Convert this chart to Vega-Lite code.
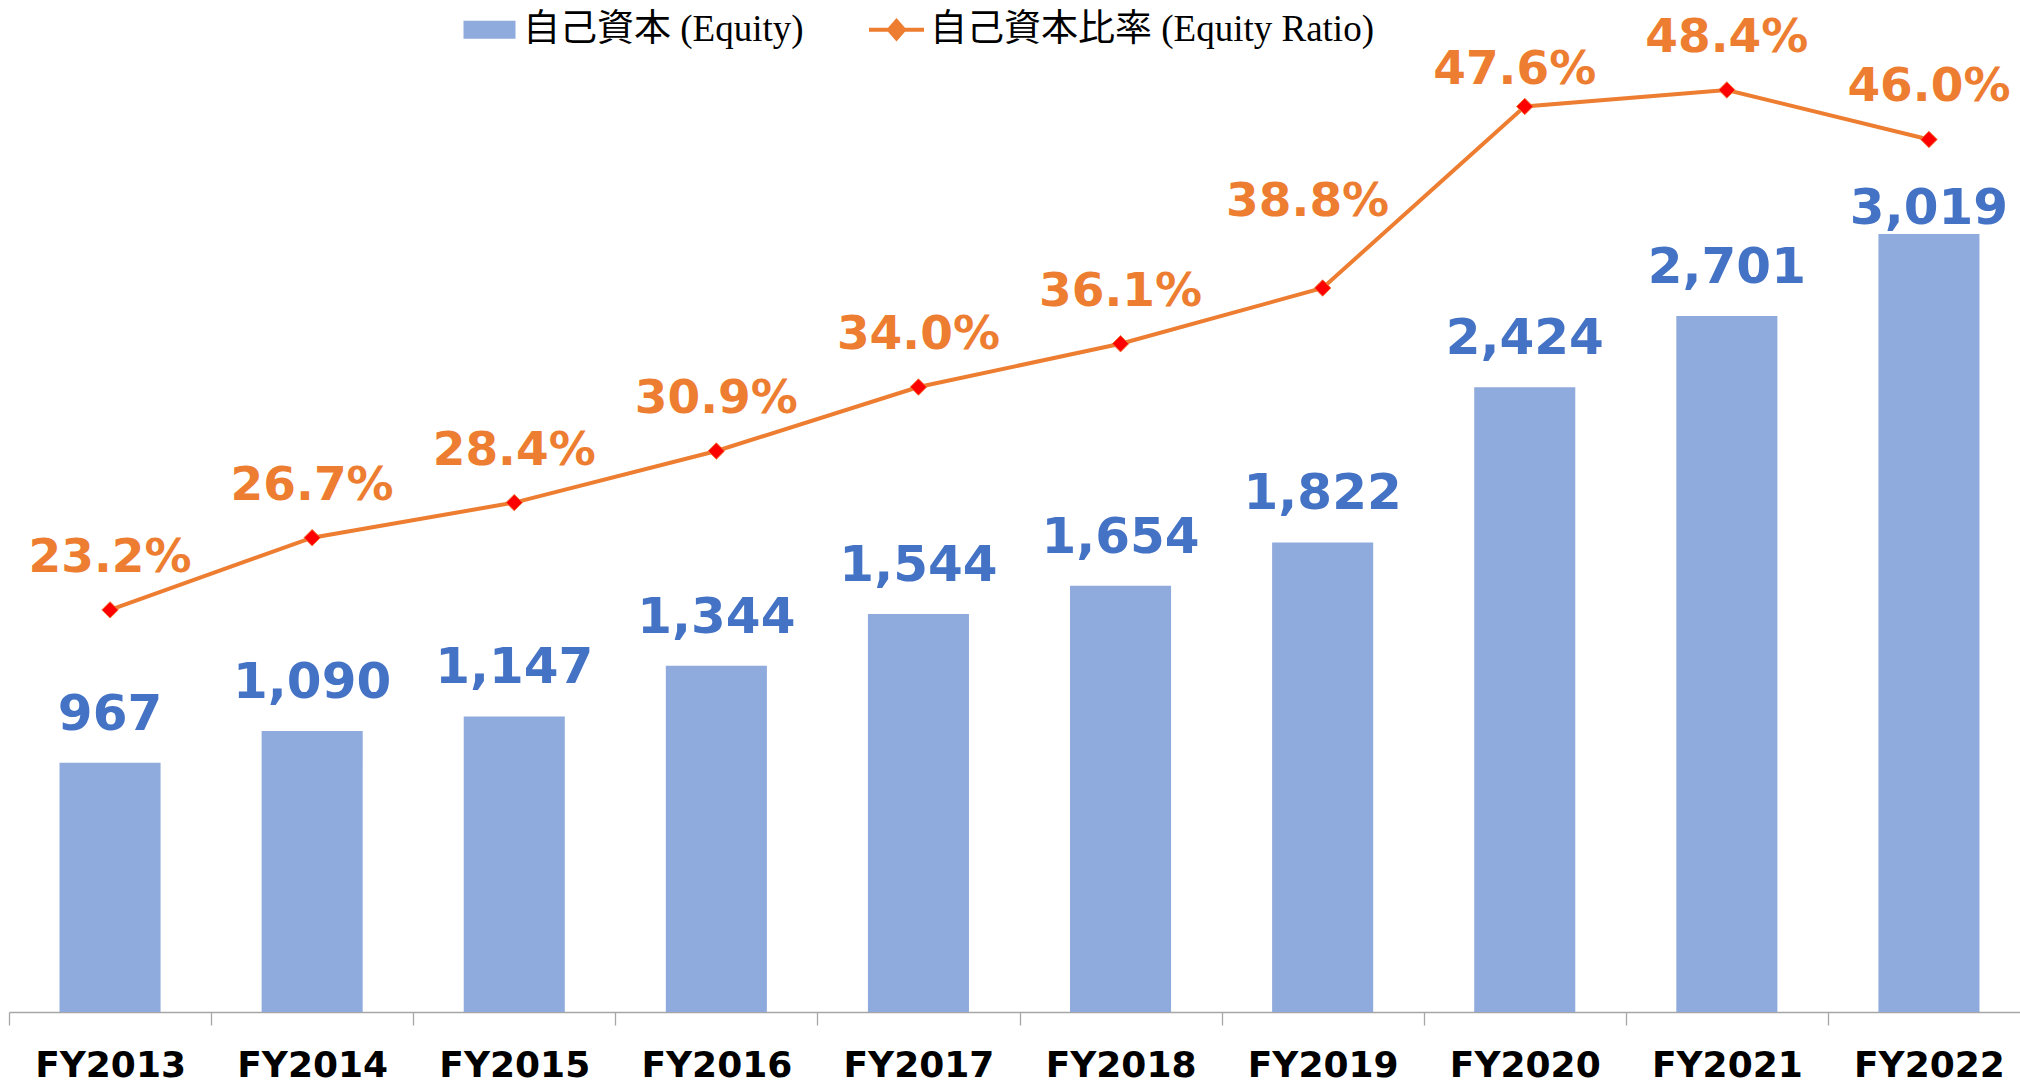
{
  "$schema": "https://vega.github.io/schema/vega-lite/v6.json",
  "width": 2011,
  "height": 1012,
  "autosize": {"type": "none"},
  "padding": {"left": 9, "top": 0, "right": 0, "bottom": 71},
  "background": "white",
  "config": {"view": {"stroke": null}, "font": "DejaVu Sans"},
  "data": {"values": [
    {"year": "FY2013", "equity": 967, "ratio": 0.232},
    {"year": "FY2014", "equity": 1090, "ratio": 0.267},
    {"year": "FY2015", "equity": 1147, "ratio": 0.284},
    {"year": "FY2016", "equity": 1344, "ratio": 0.309},
    {"year": "FY2017", "equity": 1544, "ratio": 0.340},
    {"year": "FY2018", "equity": 1654, "ratio": 0.361},
    {"year": "FY2019", "equity": 1822, "ratio": 0.388},
    {"year": "FY2020", "equity": 2424, "ratio": 0.476},
    {"year": "FY2021", "equity": 2701, "ratio": 0.484},
    {"year": "FY2022", "equity": 3019, "ratio": 0.460}
  ]},
  "encoding": {
    "x": {
      "field": "year", "type": "nominal", "sort": null,
      "scale": {"paddingInner": 0, "paddingOuter": 0, "range": [0, 2021]},
      "axis": {
        "title": null, "labelAngle": 0,
        "labelFont": "DejaVu Sans", "labelFontWeight": "bold", "labelFontSize": 36,
        "labelColor": "#000000", "labelPadding": 23,
        "tickBand": "extent", "tickSize": 13, "tickColor": "#A6A6A6", "tickWidth": 1.3,
        "domainColor": "#A6A6A6", "domainWidth": 1.3, "grid": false
      }
    }
  },
  "layer": [
    {
      "encoding": {"y": {"field": "equity", "type": "quantitative", "scale": {"domain": [0, 3927], "nice": false, "zero": true}, "axis": null}},
      "layer": [
        {
          "mark": {"type": "bar", "opacity": 1, "width": {"band": 0.5}},
          "encoding": {
            "color": {
              "datum": "自己資本 (Equity)",
              "scale": {"domain": ["自己資本 (Equity)", "自己資本比率 (Equity Ratio)"], "range": ["#8FAADC", "#ED7D31"]},
              "legend": {
                "title": null, "orient": "none", "legendX": 462, "legendY": 11,
                "direction": "horizontal", "columnPadding": 57,
                "labelFont": "'Liberation Serif', 'Noto Sans CJK JP'", "labelFontSize": 37,
                "labelColor": "#000000", "labelOffset": 15, "symbolSize": 1600,
                "labelLimit": 1000,
                "encode": {
                  "symbols": {
                    "update": {
                      "shape": {"signal": "datum.value === '自己資本 (Equity)' ? 'M-1.3,-0.45H1.3V0.45H-1.3Z' : 'M-1.375,0H-0.38M0.38,0H1.375M-0.38,0L0,-0.44L0.38,0L0,0.44Z'"},
                      "fill": {"signal": "datum.value === '自己資本 (Equity)' ? '#8FAADC' : '#FF0000'"},
                      "stroke": {"signal": "datum.value === '自己資本 (Equity)' ? 'transparent' : '#ED7D31'"},
                      "strokeWidth": {"signal": "datum.value === '自己資本 (Equity)' ? 0 : 4"},
                      "opacity": {"value": 1},
                      "fillOpacity": {"value": 1},
                      "strokeOpacity": {"value": 1}
                    }
                  }
                }
              }
            }
          }
        },
        {
          "mark": {
            "type": "text", "baseline": "alphabetic", "align": "center",
            "font": "DejaVu Sans", "fontWeight": "bold", "fontSize": 50, "color": "#4472C4",
            "dy": {"expr": "datum.year === 'FY2022' ? -10 : -33"}
          },
          "encoding": {"text": {"field": "equity", "type": "quantitative", "format": ","}}
        }
      ]
    },
    {
      "encoding": {"y": {"field": "ratio", "type": "quantitative", "scale": {"domain": [0.0371, 0.5276], "nice": false, "zero": false}, "axis": null}},
      "layer": [
        {
          "mark": {"type": "line", "strokeWidth": 4},
          "encoding": {
            "color": {
              "datum": "自己資本比率 (Equity Ratio)",
              "legend": {
                "title": null, "orient": "none", "legendX": 462, "legendY": 11,
                "direction": "horizontal", "columnPadding": 57,
                "labelFont": "'Liberation Serif', 'Noto Sans CJK JP'", "labelFontSize": 37,
                "labelColor": "#000000", "labelOffset": 15, "symbolSize": 1600,
                "labelLimit": 1000,
                "encode": {
                  "symbols": {
                    "update": {
                      "shape": {"signal": "datum.value === '自己資本 (Equity)' ? 'M-1.3,-0.45H1.3V0.45H-1.3Z' : 'M-1.375,0H-0.38M0.38,0H1.375M-0.38,0L0,-0.44L0.38,0L0,0.44Z'"},
                      "fill": {"signal": "datum.value === '自己資本 (Equity)' ? '#8FAADC' : '#FF0000'"},
                      "stroke": {"signal": "datum.value === '自己資本 (Equity)' ? 'transparent' : '#ED7D31'"},
                      "strokeWidth": {"signal": "datum.value === '自己資本 (Equity)' ? 0 : 4"},
                      "opacity": {"value": 1},
                      "fillOpacity": {"value": 1},
                      "strokeOpacity": {"value": 1}
                    }
                  }
                }
              }
            }
          }
        },
        {
          "mark": {"type": "point", "shape": "diamond", "filled": true, "fill": "#FF0000", "stroke": "#F07A3A", "strokeWidth": 1, "size": 270, "opacity": 1}
        },
        {
          "mark": {
            "type": "text", "baseline": "alphabetic", "align": "center",
            "font": "DejaVu Sans", "fontWeight": "bold", "fontSize": 47, "color": "#ED7D31",
            "dy": {"expr": "datum.year === 'FY2019' ? -72 : (datum.year === 'FY2020' ? -22 : -38)"},
            "dx": {"expr": "datum.year === 'FY2019' ? -15 : (datum.year === 'FY2020' ? -10 : 0)"}
          },
          "encoding": {"text": {"field": "ratio", "type": "quantitative", "format": ".1%"}}
        }
      ]
    }
  ],
  "resolve": {"scale": {"y": "independent"}}
}
